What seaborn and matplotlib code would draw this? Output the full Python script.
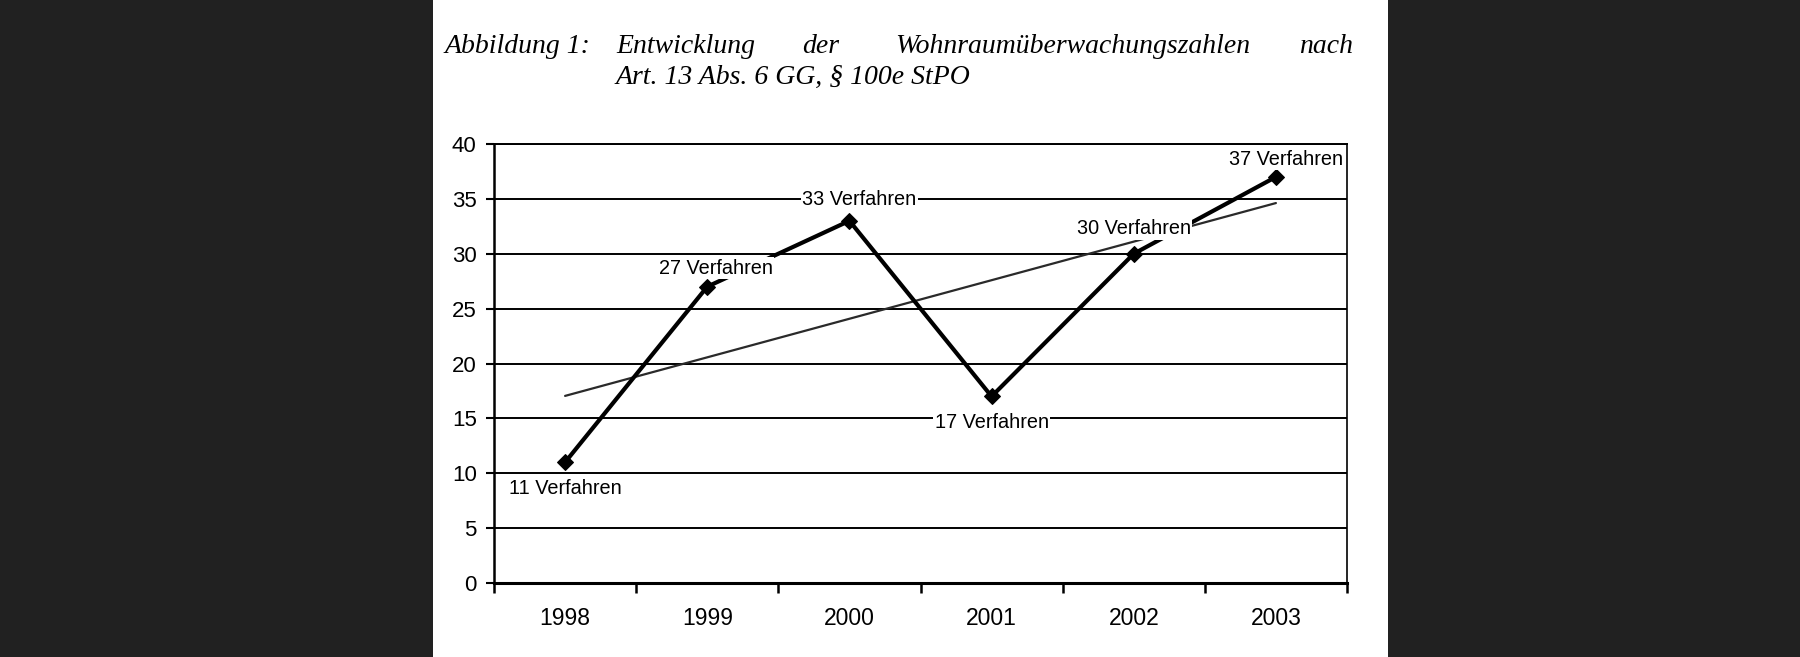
import numpy as np
import pandas as pd
import matplotlib
matplotlib.use("Agg")
import matplotlib.pyplot as plt
import seaborn as sns
from matplotlib.patches import Rectangle
from matplotlib.ticker import FixedLocator, NullFormatter

# ---- data ----
years = ["1998", "1999", "2000", "2001", "2002", "2003"]
cases = [11, 27, 33, 17, 30, 37]
labels = ["11 Verfahren", "27 Verfahren", "33 Verfahren",
          "17 Verfahren", "30 Verfahren", "37 Verfahren"]
yticks = [0, 5, 10, 15, 20, 25, 30, 35, 40]
title_line1 = ["Abbildung 1:", "Entwicklung", "der", "Wohnraumüberwachungszahlen", "nach"]
title_line2 = "Art. 13 Abs. 6 GG, § 100e StPO"

sns.set_style("white")
plt.rcParams['font.family'] = ['Liberation Sans', 'DejaVu Sans']

W, H = 1800, 657
fig = plt.figure(figsize=(18, 6.57), dpi=100)
fig.patch.set_facecolor("#212121")
# white page
fig.patches.append(Rectangle((433 / W, 0), (1388 - 433) / W, 1,
                             transform=fig.transFigure, facecolor="white",
                             edgecolor="none", zorder=-5))

ax = fig.add_axes([494 / W, 1 - 583 / H, (1347 - 494) / W, (583 - 144) / H])
ax.set_zorder(3)
ax.set_facecolor("white")

df = pd.DataFrame({"pos": np.arange(len(years)), "cases": cases})

# grid lines
for v in yticks[1:]:
    ax.axhline(v, color="black", lw=1.4, zorder=1)

# trend line
sns.regplot(data=df, x="pos", y="cases", scatter=False, ci=None, truncate=True,
            ax=ax, line_kws=dict(color="#2a2a2a", lw=1.6, zorder=2))

# main series
sns.lineplot(data=df, x="pos", y="cases", ax=ax, color="black", lw=3.0,
             marker="D", markersize=8, markeredgecolor="black",
             markerfacecolor="black", zorder=3)

# data labels (offsets in value units)
offsets = [(0.0, -2.4), (0.06, 1.7), (0.07, 1.9), (0.0, -2.35), (0.0, 2.3), (0.07, 1.6)]
for i, (lab, (dx, dy)) in enumerate(zip(labels, offsets)):
    ax.text(i + dx, cases[i] + dy, lab, ha="center", va="center", fontsize=14.3,
            color="black", zorder=5,
            bbox=dict(boxstyle="square,pad=0.08", facecolor="white", edgecolor="none"))

ax.set_xlim(-0.5, 5.5)
ax.set_ylim(0, 40)
ax.set_xlabel("")
ax.set_ylabel("")
ax.set_xticks(range(len(years)))
ax.set_xticklabels(years)
ax.xaxis.set_minor_locator(FixedLocator(np.arange(-0.5, 6.0, 1.0)))
ax.xaxis.set_minor_formatter(NullFormatter())
ax.set_yticks(yticks)
ax.set_yticklabels([str(v) for v in yticks])

ax.tick_params(axis="x", which="major", length=0, pad=17, labelsize=16.5, colors="black")
ax.tick_params(axis="x", which="minor", length=7, width=1.8, direction="out",
               bottom=True, color="black")
ax.tick_params(axis="y", which="major", length=6, width=1.5, direction="out",
               left=True, pad=6.5, labelsize=16, colors="black")

for side in ["left", "bottom", "right", "top"]:
    ax.spines[side].set_visible(True)
    ax.spines[side].set_color("black")
ax.spines["left"].set_linewidth(1.8)
ax.spines["bottom"].set_linewidth(2.2)
ax.spines["right"].set_linewidth(1.2)
ax.spines["top"].set_linewidth(1.4)

# title (justified layout)
serif = dict(family=["Liberation Serif", "DejaVu Serif"], style="italic",
             fontsize=20, color="black")
y1 = 1 - 53 / H
y2 = 1 - 84 / H
xs = [445, 616, 802, 895, 1353]
for word, x in zip(title_line1, xs):
    ha = "right" if word == "nach" else "left"
    fig.text(x / W, y1, word, ha=ha, va="baseline", **serif)
fig.text(616 / W, y2, title_line2, ha="left", va="baseline", **serif)

fig.savefig("out.png", dpi=100, facecolor=fig.get_facecolor())
